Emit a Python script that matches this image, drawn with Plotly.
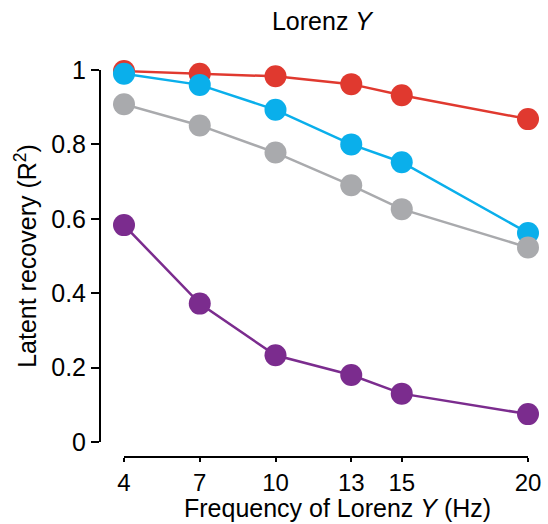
import plotly.graph_objects as go

freqs = [4, 7, 10, 13, 15, 20]
red_vals = [0.997, 0.990, 0.983, 0.962, 0.932, 0.868]
blue_vals = [0.990, 0.960, 0.893, 0.800, 0.752, 0.562]
gray_vals = [0.908, 0.851, 0.778, 0.690, 0.626, 0.523]
purple_vals = [0.583, 0.372, 0.233, 0.180, 0.130, 0.075]

series = [
    ("red", red_vals, "#E0392F"),
    ("blue", blue_vals, "#0AAFEB"),
    ("gray", gray_vals, "#A9AAAD"),
    ("purple", purple_vals, "#7B2C8E"),
]

x_ticks = [4, 7, 10, 13, 15, 20]
y_ticks = [0, 0.2, 0.4, 0.6, 0.8, 1]
y_ticklabels = ["0", "0.2", "0.4", "0.6", "0.8", "1"]

fig = go.Figure()
for name, vals, color in series:
    fig.add_trace(go.Scatter(
        x=freqs, y=vals, mode="lines+markers", name=name,
        line=dict(color=color, width=2.5),
        marker=dict(color=color, size=22, line=dict(width=0)),
        cliponaxis=False, showlegend=False,
    ))

font_family = "Liberation Sans, Arial, sans-serif"
FS = 25
W, H = 548, 524
L, R, T, B = 100, 20, 70, 67
pw = W - L - R
ph = H - T - B

fig.update_layout(
    width=W, height=H,
    margin=dict(l=L, r=R, t=T, b=B, autoexpand=False),
    plot_bgcolor="white", paper_bgcolor="white",
    font=dict(family=font_family, size=FS, color="black"),
    title=dict(text="Lorenz <i>Y</i>", x=(322 - L) / pw, xref="paper", xanchor="center",
               y=1 - 21 / H, yref="container", yanchor="middle",
               font=dict(size=FS, color="black")),
    xaxis=dict(
        range=[4, 20], domain=[(124 - L) / pw, 1],
        anchor="free", position=0, automargin=False,
        tickvals=x_ticks, ticktext=[str(v) for v in x_ticks],
        showgrid=False, zeroline=False,
        showline=True, linecolor="black", linewidth=2,
        ticks="outside", ticklen=4, tickwidth=2, tickcolor="black",
        tickfont=dict(size=24),
    ),
    yaxis=dict(
        range=[0, 1], domain=[(457 - 442) / ph, 1],
        anchor="free", position=0, automargin=False,
        tickvals=y_ticks, ticktext=y_ticklabels,
        showgrid=False, zeroline=False,
        showline=True, linecolor="black", linewidth=2,
        ticks="outside", ticklen=8, tickwidth=2, tickcolor="black",
        tickfont=dict(size=FS),
        title=dict(text="Latent recovery (R<sup>2</sup>)", standoff=6, font=dict(size=FS)),
    ),
    annotations=[dict(
        text="Frequency of Lorenz <i>Y</i> (Hz)",
        xref="paper", yref="paper",
        x=(337 - L) / pw, y=(457 - 508) / ph,
        xanchor="center", yanchor="middle",
        showarrow=False, font=dict(size=FS, color="black"),
    )],
)

fig.write_html("out.html")
